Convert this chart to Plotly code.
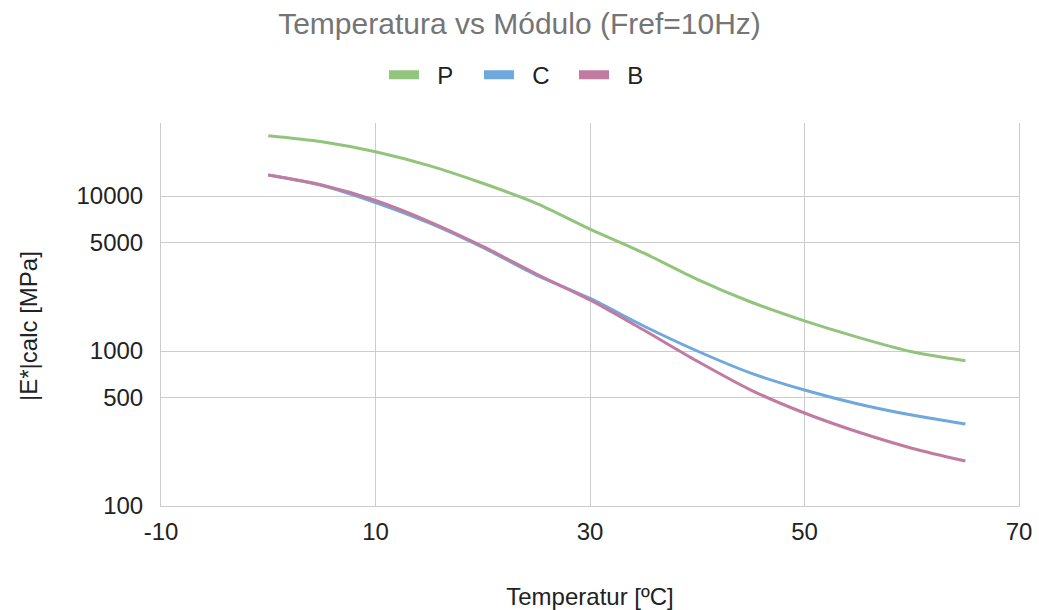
import plotly.graph_objects as go

temps = [0, 5, 10, 15, 20, 25, 30, 35, 40, 45, 50, 55, 60, 65]
P = [24500, 22400, 19300, 15700, 12080, 8975, 6120, 4290, 2900, 2070, 1563, 1225, 989, 865]
C = [13650, 11690, 9080, 6700, 4655, 3090, 2182, 1450, 1000, 720, 560, 455, 386, 338]
B = [13650, 11770, 9350, 6840, 4725, 3140, 2135, 1365, 860, 560, 398, 300, 236, 195]

x_ticks = [-10, 10, 30, 50, 70]
y_ticks = [100, 500, 1000, 5000, 10000]

series = [("P", P, "#93c47d"), ("C", C, "#6fa8dc"), ("B", B, "#c27ba0")]

fig = go.Figure()
for name, vals, col in series:
    fig.add_trace(go.Scatter(x=temps, y=vals, name=name, mode="lines", showlegend=False,
                             line=dict(color=col, width=3, shape="spline", smoothing=0.8)))
# legend entries drawn as thick swatches
for name, vals, col in series:
    fig.add_trace(go.Scatter(x=[None], y=[None], name="\u00a0\u00a0" + name, mode="lines",
                             line=dict(color=col, width=9), hoverinfo="skip"))

font = "Liberation Sans, Arial, sans-serif"
grid = "#cccccc"
fig.update_layout(
    width=1039, height=610,
    margin=dict(l=161, r=20, t=123, b=104, autoexpand=False),
    paper_bgcolor="white", plot_bgcolor="white",
    font=dict(family=font, size=24, color="#222222"),
    title=dict(text="Temperatura vs Módulo (Fref=10Hz)", x=0.5, xanchor="center",
               y=0.962, yanchor="middle", font=dict(size=30, color="#757575")),
    legend=dict(orientation="h", xref="container", x=384 / 1039, xanchor="left",
                y=1.125, yanchor="middle", entrywidth=50, entrywidthmode="pixels",
                font=dict(size=24, color="#222222"), itemwidth=30, tracegroupgap=0),
    showlegend=True,
    annotations=[dict(text="|E*|calc [MPa]", textangle=-90, xref="paper", yref="paper",
                      x=(28 - 161) / 858, y=(506 - 326) / 383, xanchor="center",
                      yanchor="middle", showarrow=False,
                      font=dict(size=24, color="#222222", family=font))],
)
fig.update_xaxes(range=[-10, 70], tickvals=x_ticks, ticktext=[str(v) for v in x_ticks],
                 showgrid=True, gridcolor=grid, gridwidth=1, zeroline=False,
                 showline=True, linecolor=grid, linewidth=1, mirror=False,
                 ticks="", tickfont=dict(size=24), ticklabelstandoff=4,
                 title=dict(text="Temperatur [ºC]", font=dict(size=24), standoff=46))
fig.update_yaxes(type="log", range=[2, 2 + 383 / 155], tickvals=y_ticks,
                 ticktext=[str(v) for v in y_ticks],
                 showgrid=True, gridcolor=grid, gridwidth=1, zeroline=False,
                 showline=True, linecolor=grid, linewidth=1, mirror=True,
                 ticks="", tickfont=dict(size=24), ticklabelstandoff=12)

fig.write_html("out.html")
